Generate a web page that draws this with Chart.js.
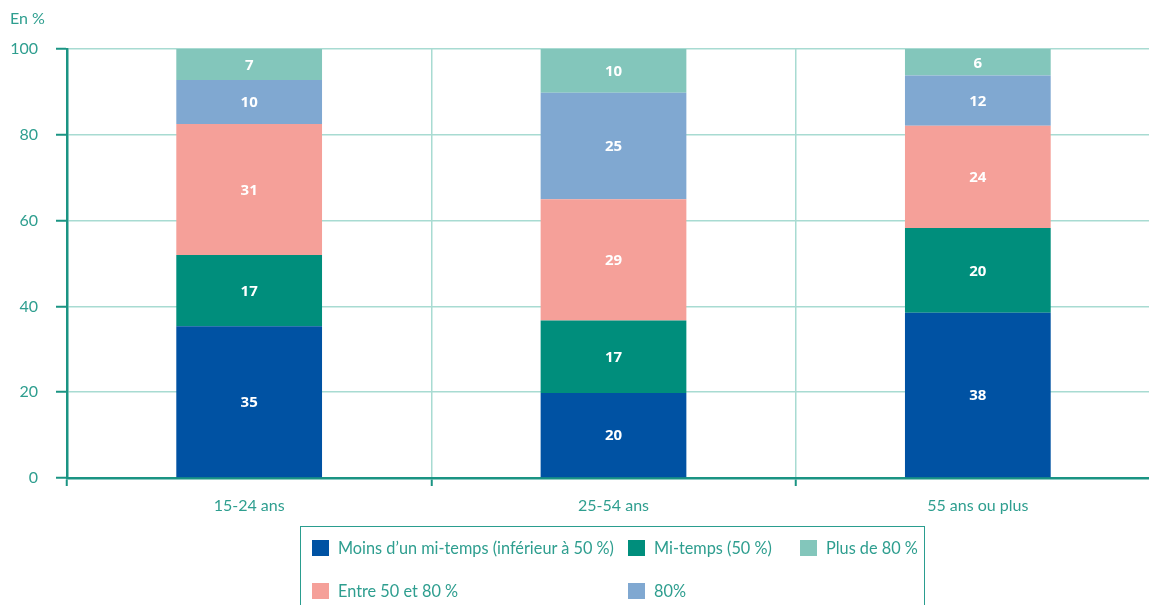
<!DOCTYPE html>
<html>
<head>
<meta charset="utf-8">
<script src="https://cdn.jsdelivr.net/npm/chart.js@4.4.1/dist/chart.umd.min.js"></script>
<style>
  html, body { margin:0; padding:0; background:#fff; overflow:hidden; width:1149px; height:605px; }
  #wrap { position:absolute; left:0; top:0; width:1160px; height:605px; }
  #unit { position:absolute; left:10px; top:8px; font-family:Lato, sans-serif; font-size:16px; color:#2e9e8f; }
  #legend { position:absolute; left:300px; top:526px; width:625px; height:120px; border:1.5px solid #2a9d8f; box-sizing:border-box; font-family:Lato, sans-serif; font-size:16.3px; color:#2e9e8f; }
  .item { position:absolute; white-space:nowrap; height:16px; }
  .sw { position:absolute; left:0; top:0; width:17px; height:16px; }
  .tx { position:absolute; left:26px; top:-3px; line-height:22px; }
</style>
</head>
<body>
<div id="wrap"><canvas id="c" width="1160" height="605"></canvas></div>
<div id="unit">En %</div>
<div id="legend"></div>
<script>
const categories = ["15-24 ans", "25-54 ans", "55 ans ou plus"];
const seriesNames = ["Moins d\u2019un mi-temps (inf\u00e9rieur \u00e0 50 %)", "Mi-temps (50 %)", "Entre 50 et 80 %", "80%", "Plus de 80 %"];
const seriesColors = ["#0052a3", "#008e7c", "#f5a099", "#80a8d1", "#83c6bb"];
// measured segment sizes
const moins = [35.4, 19.8, 38.5];
const miTemps = [16.6, 16.9, 19.8];
const entre = [30.5, 28.3, 23.8];
const quatreVingt = [10.3, 24.8, 11.7];
const plus80 = [7.2, 10.2, 6.2];
// printed labels
const moinsLbl = [35, 20, 38];
const miTempsLbl = [17, 17, 20];
const entreLbl = [31, 29, 24];
const quatreVingtLbl = [10, 25, 12];
const plus80Lbl = [7, 10, 6];
const yTicks = [0, 20, 40, 60, 80, 100];

const values = [moins, miTemps, entre, quatreVingt, plus80];
const printed = [moinsLbl, miTempsLbl, entreLbl, quatreVingtLbl, plus80Lbl];

const TEAL = "#2e9e8f", DARK = "#1a9483", GRID = "#a8dbd2";
const font = "Lato, sans-serif";

const datasets = values.map((v, i) => ({
  label: seriesNames[i], data: v, backgroundColor: seriesColors[i],
  printed: printed[i], barPercentage: 0.4, categoryPercentage: 1.0, borderWidth: 0
}));

const labelPlugin = {
  id: 'segLabels',
  afterDatasetsDraw(chart) {
    const ctx = chart.ctx;
    ctx.save();
    ctx.fillStyle = "#fff";
    ctx.font = "bold 15px 'Open Sans', sans-serif";
    ctx.textAlign = "center"; ctx.textBaseline = "middle";
    chart.data.datasets.forEach((ds, di) => {
      chart.getDatasetMeta(di).data.forEach((el, j) => {
        const p = el.getProps(['x', 'y', 'base'], true);
        ctx.fillText(String(ds.printed[j]), p.x, (p.y + p.base) / 2 + 1);
      });
    });
    ctx.restore();
  }
};

new Chart(document.getElementById('c'), {
  type: 'bar',
  data: { labels: categories, datasets },
  plugins: [labelPlugin],
  options: {
    responsive: false, animation: false,
    layout: { padding: { top: 49, left: 0, right: 0, bottom: 0 } },
    plugins: { legend: { display: false }, tooltip: { enabled: false } },
    scales: {
      x: {
        stacked: true,
        grid: { offset: true, color: GRID, lineWidth: 1.5, tickColor: DARK, tickLength: 8, tickWidth: 2 },
        border: { color: DARK, width: 2.5 },
        ticks: { color: TEAL, font: { family: font, size: 16 }, padding: 10 },
        afterFit(s) { s.height = 605 - 478; }
      },
      y: {
        stacked: true, min: 0, max: 100,
        afterBuildTicks(s) { s.ticks = yTicks.map(v => ({ value: v })); },
        grid: { color: GRID, lineWidth: 1.5, tickColor: DARK, tickLength: 11, tickWidth: 2 },
        border: { color: DARK, width: 2.5 },
        ticks: { color: TEAL, font: { family: font, size: 16 }, padding: 18 },
        afterFit(s) { s.width = 67; }
      }
    }
  }
});

// HTML legend built from series arrays
const legendOrder = [0, 1, 4, 2, 3];
const pos = [[11, 13], [327, 13], [499, 13], [11, 56], [327, 56]];
const lg = document.getElementById('legend');
legendOrder.forEach((si, k) => {
  const d = document.createElement('div');
  d.className = 'item';
  d.style.left = pos[k][0] + 'px'; d.style.top = pos[k][1] + 'px';
  d.innerHTML = '<span class="sw" style="background:' + seriesColors[si] + '"></span><span class="tx"></span>';
  d.querySelector('.tx').textContent = seriesNames[si];
  lg.appendChild(d);
});
</script>
</body>
</html>
